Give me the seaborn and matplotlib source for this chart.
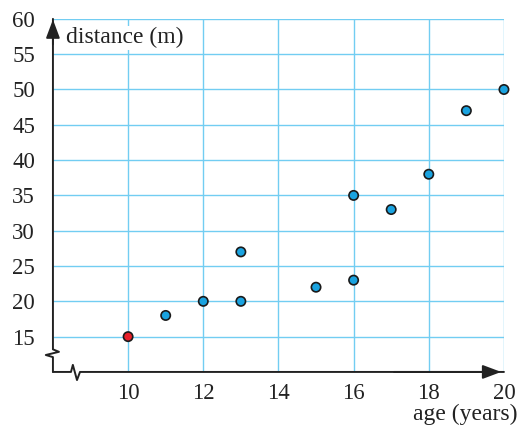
import pandas as pd
import matplotlib.pyplot as plt
import seaborn as sns

age = [10, 11, 12, 13, 13, 15, 16, 16, 17, 18, 19, 20]
distance = [15, 18, 20, 20, 27, 22, 23, 35, 33, 38, 47, 50]
group = ['first'] + ['other'] * 11
x_ticks = [10, 12, 14, 16, 18, 20]
y_ticks = [15, 20, 25, 30, 35, 40, 45, 50, 55, 60]

df = pd.DataFrame({'age': age, 'distance': distance, 'group': group})

sns.set_style('white')
plt.rcParams['font.family'] = ['Liberation Serif', 'DejaVu Serif']

fig = plt.figure(figsize=(5.19, 4.29), dpi=100)
ax = fig.add_axes([0.102, 0.133, 0.869, 0.823])

grid_col = '#72cdf2'
for x in x_ticks:
    ax.axvline(x, color=grid_col, lw=1, zorder=1)
for y in y_ticks:
    ax.axhline(y, color=grid_col, lw=1, zorder=1)

ax.set_xlim(8, 20)
ax.set_ylim(10, 60)
for s in ax.spines.values():
    s.set_visible(False)

# axes with break marks
ax.plot([8, 8, 8.16, 7.81, 8, 8], [60, 13.2, 12.85, 12.4, 12.1, 10],
        color='#222222', lw=1.4, clip_on=False, zorder=3)
ax.plot([8, 8.48, 8.53, 8.64, 8.72, 20], [10, 10, 11.0, 8.85, 10, 10],
        color='#222222', lw=1.4, clip_on=False, zorder=3)
ax.annotate('', xy=(8, 60.3), xytext=(8, 56), annotation_clip=False,
            arrowprops=dict(arrowstyle='-|>,head_width=0.3,head_length=0.8',
                            color='#222222', lw=1.4, mutation_scale=14))
ax.annotate('', xy=(20, 10), xytext=(17, 10), annotation_clip=False,
            arrowprops=dict(arrowstyle='-|>,head_width=0.3,head_length=0.8',
                            color='#222222', lw=1.4, mutation_scale=14))

sns.scatterplot(data=df, x='age', y='distance', hue='group',
                palette={'first': '#e8202a', 'other': '#1aa3e0'},
                s=45, edgecolor='#1a1a1a', linewidth=1.2, legend=False,
                clip_on=False, zorder=4, ax=ax)

ax.set_xticks(x_ticks)
ax.set_yticks(y_ticks)
ax.tick_params(length=0, labelsize=16.5, labelcolor='#222222')
ax.tick_params(axis='x', pad=8)
ax.tick_params(axis='y', pad=13)
ax.set_xlabel('')
ax.set_ylabel('')

ax.text(8.35, 57.3, 'distance (m)', fontsize=17, color='#222222',
        va='center', ha='left', zorder=5,
        bbox=dict(facecolor='white', edgecolor='none', pad=1))
fig.text(0.997, 0.033, 'age (years)', fontsize=17, color='#222222',
         ha='right', va='center')

fig.savefig('out.png', dpi=100)
